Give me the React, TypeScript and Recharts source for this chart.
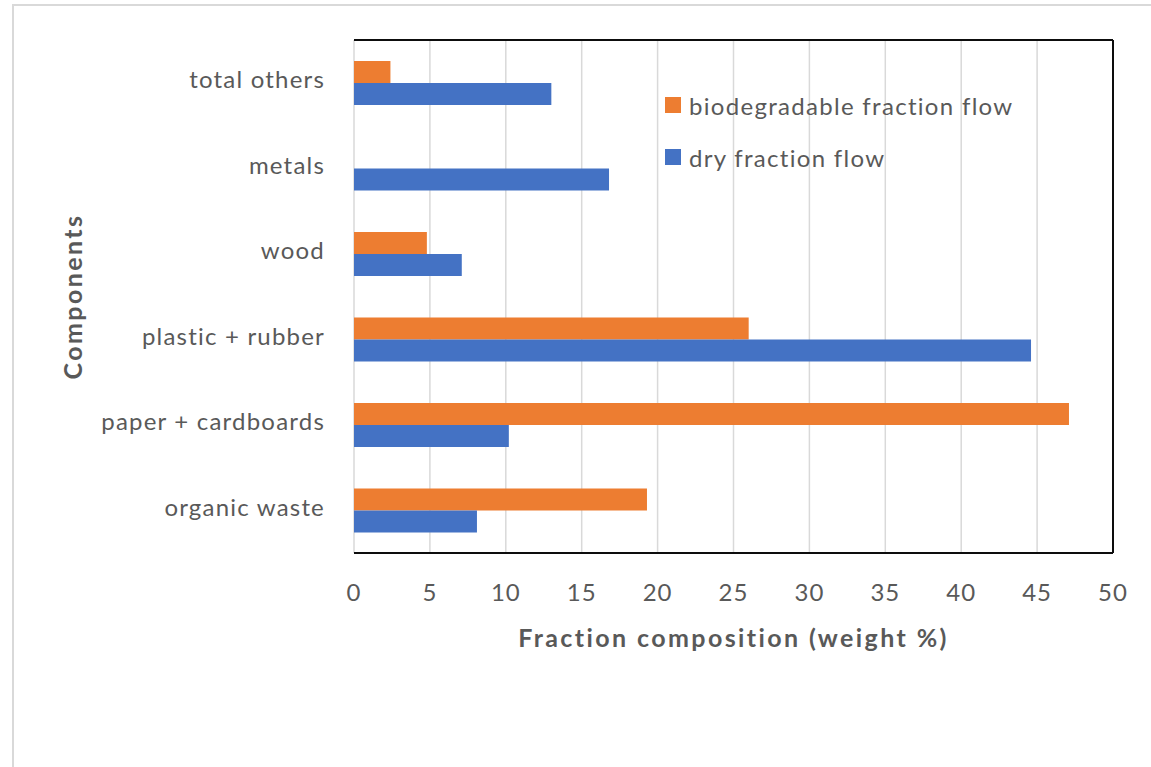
import React from 'react';
import {
  BarChart,
  Bar,
  XAxis,
  YAxis,
  CartesianGrid,
  ReferenceLine,
  Label,
} from 'recharts';

// Categories listed top to bottom
const components = [
  'total others',
  'metals',
  'wood',
  'plastic + rubber',
  'paper + cardboards',
  'organic waste',
];
const biodegradable = [2.4, 0, 4.8, 26.0, 47.1, 19.3];
const dry = [13.0, 16.8, 7.1, 44.6, 10.2, 8.1];
const xTicks = [0, 5, 10, 15, 20, 25, 30, 35, 40, 45, 50];

const ORANGE = '#ED7D31';
const BLUE = '#4472C4';
const TEXT = '#595959';
const FONT = 'Lato, "Open Sans", sans-serif';

const chartData = components.map((name, i) => ({
  name,
  bio: biodegradable[i],
  dry: dry[i],
}));

const legendItems = [
  { label: 'biodegradable fraction flow', color: ORANGE },
  { label: 'dry fraction flow', color: BLUE },
];

function FlowLegend() {
  return (
    <div style={{ position: 'absolute', left: 665, top: 79, fontFamily: FONT }}>
      {legendItems.map((item) => (
        <div
          key={item.label}
          style={{ display: 'flex', alignItems: 'center', height: 52 }}
        >
          <span
            style={{
              display: 'inline-block',
              width: 16,
              height: 16,
              background: item.color,
              marginRight: 8,
            }}
          />
          <span style={{ fontSize: 24, color: TEXT, letterSpacing: 1.3 }}>{item.label}</span>
        </div>
      ))}
    </div>
  );
}

export default function App() {
  return (
    <div
      style={{
        position: 'absolute',
        left: 0,
        top: 0,
        width: 1151,
        height: 767,
        overflow: 'hidden',
        background: '#fff',
      }}
    >
      {/* outer chart frame */}
      <div
        style={{
          position: 'absolute',
          left: 12,
          top: 4,
          width: 1200,
          height: 800,
          borderLeft: '2px solid #d9d9d9',
          borderTop: '2px solid #d9d9d9',
        }}
      />
      <div style={{ position: 'absolute', left: 0, top: 0 }}>
        <BarChart
          width={1151}
          height={767}
          data={chartData}
          layout="vertical"
          margin={{ top: 39, right: 38, bottom: 134, left: 14 }}
          barGap={0}
          barSize={22}
        >
          <CartesianGrid horizontal={false} stroke="#d9d9d9" strokeWidth={1.5} />
          <XAxis
            type="number"
            domain={[0, 50]}
            ticks={xTicks}
            interval={0}
            height={80}
            tickLine={false}
            tickSize={0}
            tickMargin={31}
            axisLine={{ stroke: '#0d0d0d', strokeWidth: 2 }}
            tick={{ fill: TEXT, fontSize: 24, fontFamily: FONT, letterSpacing: 1 }}
          >
            <Label
              content={({ viewBox }: any) => (
                <text
                  x={viewBox.x + viewBox.width / 2}
                  y={647}
                  textAnchor="middle"
                  fill={TEXT}
                  fontSize={25}
                  fontWeight="bold"
                  fontFamily={FONT}
                  letterSpacing={2.4}
                >
                  Fraction composition (weight %)
                </text>
              )}
            />
          </XAxis>
          <XAxis
            xAxisId="top"
            type="number"
            orientation="top"
            domain={[0, 50]}
            height={1}
            tick={false}
            tickLine={false}
            axisLine={{ stroke: '#0d0d0d', strokeWidth: 2 }}
          />
          <YAxis
            type="category"
            dataKey="name"
            width={340}
            axisLine={false}
            tickLine={false}
            tickSize={0}
            tickMargin={29}
            interval={0}
            tick={{ fill: TEXT, fontSize: 24, fontFamily: FONT, letterSpacing: 1.2, dy: -3 }}
          >
            <Label
              content={({ viewBox }: any) => (
                <text
                  x={82}
                  y={viewBox.y + viewBox.height / 2}
                  transform={`rotate(-90, 82, ${viewBox.y + viewBox.height / 2})`}
                  textAnchor="middle"
                  fill={TEXT}
                  fontSize={25}
                  fontWeight="bold"
                  fontFamily={FONT}
                  letterSpacing={2.4}
                >
                  Components
                </text>
              )}
            />
          </YAxis>
          <ReferenceLine x={50} stroke="#0d0d0d" strokeWidth={2} />
          <Bar dataKey="bio" name="biodegradable fraction flow" fill={ORANGE} isAnimationActive={false} />
          <Bar dataKey="dry" name="dry fraction flow" fill={BLUE} isAnimationActive={false} />
        </BarChart>
      </div>
      <FlowLegend />
    </div>
  );
}
